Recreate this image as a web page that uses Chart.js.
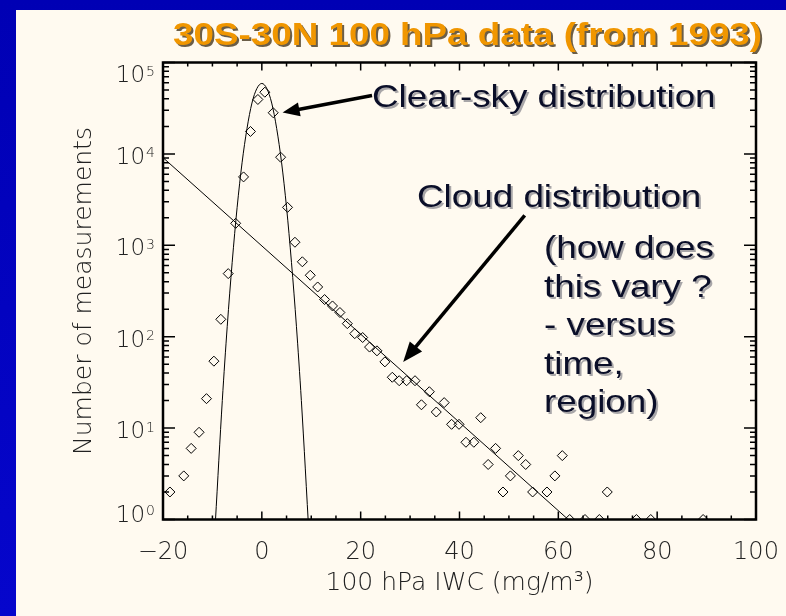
<!DOCTYPE html>
<html>
<head>
  <title>100 hPa IWC distribution</title>
  <script src="https://cdn.jsdelivr.net/npm/chart.js"></script>
  <style>
    html, body { margin: 0; padding: 0; background: #0505c6; }
    canvas { display: block; }
  </style>
</head>
<body>
  <canvas id="iwcChart" width="786" height="616"></canvas>
  <script>
    // histogram of 100 hPa IWC (mg/m3), 30S-30N
    const binCentres = [-18.6, -15.8, -14.3, -12.7, -11.2, -9.7, -8.3, -6.8, -5.3, -3.7, -2.3, -0.8, 0.6, 2.3, 3.8,
      5.2, 6.7, 8.2, 9.8, 11.3, 12.7, 14.3, 15.8, 17.3, 18.8, 20.4, 21.8, 23.3, 24.9, 26.4, 27.8, 29.3, 31.0,
      32.3, 33.9, 35.3, 36.9, 38.4, 39.9, 41.3, 42.9, 44.3, 45.8, 47.3, 48.8, 50.3, 51.9, 53.4, 54.8, 57.7,
      59.3, 60.8, 62.3, 65.4, 68.3, 69.9, 75.8, 78.7, 89.3];
    const binCounts = [2, 3, 6, 9, 21, 54, 155, 490, 1740, 5600, 17600, 39400, 47300, 28200, 9200,
      2600, 1080, 660, 470, 350, 255, 217, 184, 139, 108, 98, 77, 70, 53, 36, 33, 33, 33,
      18, 25, 15, 19, 11, 11, 7, 7, 13, 4, 6, 2, 3, 5, 4, 2, 2,
      3, 5, 1, 1, 1, 2, 1, 1, 1];

    // clear-sky (gaussian) fit
    const clearSkyX = [-9.4, -8, -7, -6, -5, -4, -3, -2, -1, 0, 1, 2, 3, 4, 5, 6, 7, 8, 9.6];
    const clearSkyFit = [0.94, 20, 130, 650, 2600, 8000, 19000, 36000, 52000, 59000, 52000, 36000, 19000, 8000, 2600, 650, 130, 20, 0.6];

    // cloud (exponential) fit
    const cloudX = [-20, 62];
    const cloudFit = [9100, 1];

    const xTickValues = [-20, 0, 20, 40, 60, 80, 100];
    const xTickLabels = ['\u221220', '0', '20', '40', '60', '80', '100'];
    const yTickValues = [1, 10, 100, 1000, 10000, 100000];
    const yTickExponents = ['0', '1', '2', '3', '4', '5'];

    const toPoints = (xs, ys) => xs.map((x, i) => ({ x: x, y: ys[i] }));

    const axisColor = '#222';
    const thinFont = '"DejaVu Sans"';

    const background = {
      id: 'background',
      beforeDraw(chart) {
        const { ctx, width, height } = chart;
        ctx.save();
        const g = ctx.createLinearGradient(0, 0, 0, height);
        g.addColorStop(0, '#0000b4');
        g.addColorStop(1, '#0606cc');
        ctx.fillStyle = g;
        ctx.fillRect(0, 0, width, height);
        ctx.fillStyle = '#fffaf0';
        ctx.fillRect(16, 10, width - 16, height - 10);
        ctx.restore();
      }
    };

    // IDL style box with inward ticks on all four sides, plus the 10^n labels
    const frame = {
      id: 'frame',
      afterDatasetsDraw(chart) {
        const { ctx, chartArea: a, scales: { x, y } } = chart;
        ctx.save();
        ctx.strokeStyle = '#000';
        ctx.lineWidth = 1.5;
        ctx.beginPath();
        for (let v = -20; v <= 100; v += 5) {
          const px = x.getPixelForValue(v);
          const len = v % 20 === 0 ? 8 : 4;
          ctx.moveTo(px, a.bottom); ctx.lineTo(px, a.bottom - len);
          ctx.moveTo(px, a.top); ctx.lineTo(px, a.top + len);
        }
        for (let d = 1; d <= 100000; d *= 10) {
          for (let k = 1; k < 10; k++) {
            const v = k * d;
            if (v > 100000) break;
            const py = y.getPixelForValue(v);
            const len = k === 1 ? 12 : 6;
            ctx.moveTo(a.left, py); ctx.lineTo(a.left + len, py);
            ctx.moveTo(a.right, py); ctx.lineTo(a.right - len, py);
          }
        }
        ctx.stroke();
        ctx.lineWidth = 2.5;
        ctx.strokeRect(a.left, a.top, a.right - a.left, a.bottom - a.top);

        // y labels: "10" with a raised exponent, kept inside the axis range
        ctx.fillStyle = axisColor;
        ctx.textBaseline = 'alphabetic';
        const right = a.left - 8;
        yTickValues.forEach((v, i) => {
          let base = y.getPixelForValue(v) + 10;
          base = Math.max(base, a.top + 19.5);
          base = Math.min(base, a.bottom + 2);
          ctx.font = '200 14px ' + thinFont;
          ctx.textAlign = 'right';
          const ew = ctx.measureText(yTickExponents[i]).width;
          ctx.fillText(yTickExponents[i], right, base - 6.5);
          ctx.font = '200 23px ' + thinFont;
          ctx.fillText('10', right - ew - 1, base);
        });
        ctx.restore();
      }
    };

    // arrows are anchored in data space: [x, count]
    const arrows = [
      { from: [22.3, 43600], to: [4.2, 28400], head: 17, half: 7 },
      { from: [53.2, 2130], to: [28.6, 53], head: 20, half: 8 }
    ];

    const notes = [
      { text: 'Clear-sky distribution', x: 372, y: 107 },
      { text: 'Cloud distribution', x: 417, y: 207 },
      { text: '(how does', x: 544, y: 257.5 },
      { text: 'this vary ?', x: 544, y: 296.5 },
      { text: '- versus', x: 544, y: 335 },
      { text: 'time,', x: 544, y: 374 },
      { text: 'region)', x: 544, y: 412 }
    ];

    function stretchedText(ctx, text, x, y, sx) {
      ctx.save();
      ctx.translate(x, y);
      ctx.scale(sx, 1);
      ctx.fillText(text, 0, 0);
      ctx.restore();
    }

    function drawArrow(ctx, x0, y0, x1, y1, head, half) {
      const ang = Math.atan2(y1 - y0, x1 - x0);
      const bx = x1 - head * Math.cos(ang);
      const by = y1 - head * Math.sin(ang);
      ctx.beginPath();
      ctx.moveTo(x0, y0);
      ctx.lineTo(bx + Math.cos(ang), by + Math.sin(ang));
      ctx.stroke();
      ctx.beginPath();
      ctx.moveTo(x1, y1);
      ctx.lineTo(bx + half * Math.sin(ang), by - half * Math.cos(ang));
      ctx.lineTo(bx - half * Math.sin(ang), by + half * Math.cos(ang));
      ctx.closePath();
      ctx.fill();
    }

    const annotations = {
      id: 'annotations',
      afterDraw(chart) {
        const { ctx, scales: { x, y } } = chart;
        ctx.save();
        ctx.textBaseline = 'alphabetic';
        ctx.textAlign = 'left';

        // title
        ctx.font = 'bold 32px "Liberation Sans", Arial, sans-serif';
        ctx.shadowColor = 'rgba(70, 55, 30, 0.8)';
        ctx.shadowOffsetX = 2;
        ctx.shadowOffsetY = 2;
        ctx.shadowBlur = 0;
        ctx.fillStyle = '#f09600';
        stretchedText(ctx, '30S-30N 100 hPa data (from 1993)', 173, 45, 1.15);

        // remarks
        ctx.font = '32px "Liberation Sans", Arial, sans-serif';
        ctx.shadowColor = 'rgba(110, 110, 120, 0.6)';
        ctx.fillStyle = '#0a0e28';
        notes.forEach(n => stretchedText(ctx, n.text, n.x, n.y, 1.15));

        ctx.shadowColor = 'rgba(0, 0, 0, 0)';
        ctx.strokeStyle = '#000';
        ctx.fillStyle = '#000';
        ctx.lineWidth = 3.5;
        arrows.forEach(a => drawArrow(ctx,
          x.getPixelForValue(a.from[0]), y.getPixelForValue(a.from[1]),
          x.getPixelForValue(a.to[0]), y.getPixelForValue(a.to[1]),
          a.head, a.half));
        ctx.restore();
      }
    };

    const ctx = document.getElementById('iwcChart').getContext('2d');
    const chart = new Chart(ctx, {
      type: 'scatter',
      data: {
        datasets: [
          {
            data: toPoints(binCentres, binCounts),
            pointStyle: 'rectRot',
            pointRadius: 5,
            borderColor: '#000',
            borderWidth: 1,
            backgroundColor: 'rgba(0,0,0,0)',
            clip: 0
          },
          {
            data: toPoints(clearSkyX, clearSkyFit),
            showLine: true,
            pointRadius: 0,
            borderColor: '#000',
            borderWidth: 1,
            cubicInterpolationMode: 'monotone',
            clip: 0
          },
          {
            data: toPoints(cloudX, cloudFit),
            showLine: true,
            pointRadius: 0,
            borderColor: '#000',
            borderWidth: 1,
            clip: 0
          }
        ]
      },
      options: {
        responsive: false,
        animation: false,
        layout: { padding: { top: 62.5, right: 30, left: 0, bottom: 0 } },
        plugins: {
          legend: { display: false },
          tooltip: { enabled: false }
        },
        scales: {
          x: {
            type: 'linear',
            min: -20,
            max: 100,
            grid: { display: false, drawTicks: false },
            border: { display: false },
            afterBuildTicks: s => { s.ticks = xTickValues.map(v => ({ value: v })); },
            afterFit: s => {
              s.height = 96.5;
              // end labels may hang over the box edges
              s.paddingLeft = 0;
              s.paddingRight = 0;
            },
            ticks: {
              autoSkip: false,
              maxRotation: 0,
              padding: 19,
              color: axisColor,
              font: { family: 'DejaVu Sans', weight: 200, size: 24 },
              callback: v => xTickLabels[xTickValues.indexOf(v)]
            },
            title: {
              display: true,
              text: '100 hPa IWC (mg/m\u00b3)',
              color: axisColor,
              font: { family: 'DejaVu Sans', weight: 200, size: 25 },
              padding: { top: 0, bottom: 18 }
            }
          },
          y: {
            type: 'logarithmic',
            min: 1,
            max: 100000,
            grid: { display: false, drawTicks: false },
            border: { display: false },
            afterBuildTicks: s => { s.ticks = yTickValues.map(v => ({ value: v, major: true })); },
            afterFit: s => { s.width = 163; },
            ticks: { display: false },
            title: {
              display: true,
              text: 'Number of measurements',
              color: axisColor,
              font: { family: 'DejaVu Sans', weight: 200, size: 25 },
              padding: { top: 69, bottom: 0 }
            }
          }
        }
      },
      plugins: [background, frame, annotations]
    });
  </script>
</body>
</html>
